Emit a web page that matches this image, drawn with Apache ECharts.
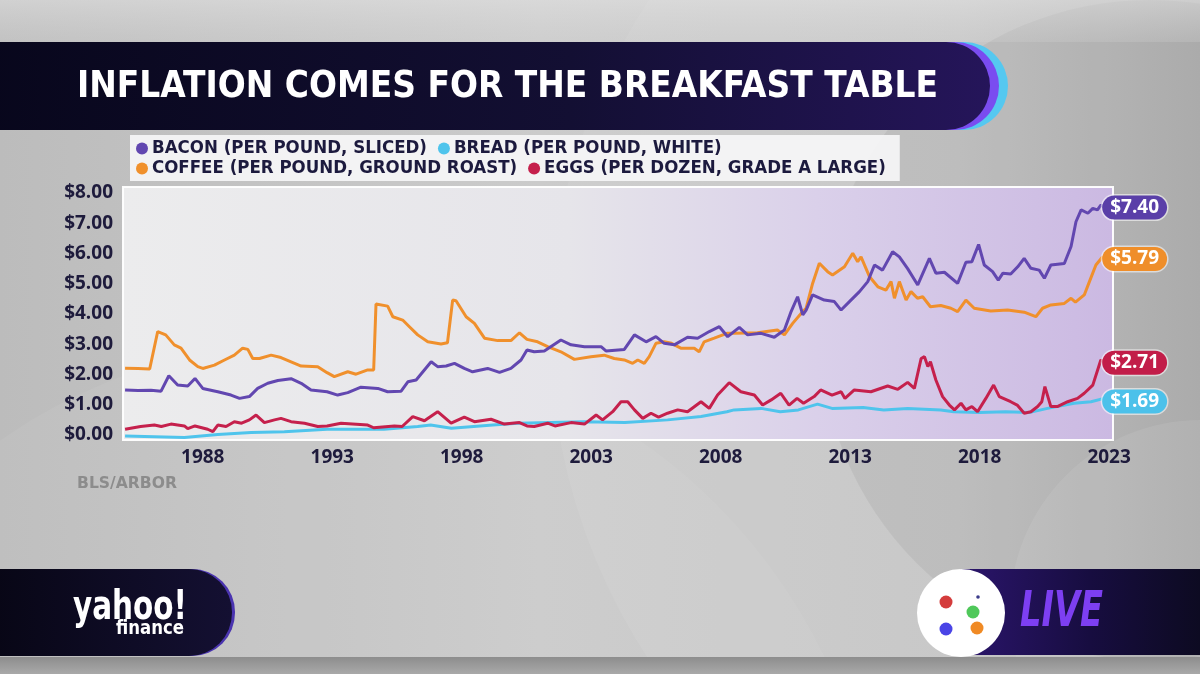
<!DOCTYPE html>
<html>
<head>
<meta charset="utf-8">
<script src="https://cdn.jsdelivr.net/npm/echarts@6/dist/echarts.min.js"></script>
<style>
html,body{margin:0;padding:0;width:1200px;height:674px;overflow:hidden;}
#chart{width:1200px;height:674px;}
</style>
</head>
<body>
<div id="chart"></div>
<script>
// ---------- DATA ----------
const seriesNames = ['BACON (PER POUND, SLICED)', 'BREAD (PER POUND, WHITE)', 'COFFEE (PER POUND, GROUND ROAST)', 'EGGS (PER DOZEN, GRADE A LARGE)'];
const endLabels = ['$7.40', '$1.69', '$5.79', '$2.71'];
const xTickYears = [1988, 1993, 1998, 2003, 2008, 2013, 2018, 2023];
const yTickValues = [0, 1, 2, 3, 4, 5, 6, 7, 8];

const bacon = [[1985.0,1.49],[1985.5,1.47],[1986.0,1.48],[1986.39,1.45],[1986.69,1.96],[1987.03,1.65],[1987.42,1.62],[1987.7,1.87],[1988.0,1.54],[1988.58,1.43],[1989.09,1.32],[1989.42,1.21],[1989.8,1.27],[1990.12,1.54],[1990.51,1.71],[1990.9,1.80],[1991.41,1.86],[1991.8,1.71],[1992.18,1.49],[1992.8,1.43],[1993.21,1.32],[1993.6,1.40],[1994.11,1.58],[1994.76,1.54],[1995.14,1.43],[1995.66,1.45],[1995.92,1.76],[1996.24,1.82],[1996.82,2.42],[1997.07,2.26],[1997.4,2.28],[1997.72,2.37],[1998.1,2.20],[1998.42,2.09],[1999.0,2.20],[1999.46,2.07],[1999.9,2.20],[2000.29,2.48],[2000.52,2.81],[2000.8,2.75],[2001.19,2.78],[2001.83,3.14],[2002.22,2.98],[2002.74,2.92],[2003.38,2.92],[2003.57,2.78],[2004.28,2.83],[2004.67,3.31],[2005.12,3.08],[2005.5,3.25],[2005.82,3.03],[2006.21,2.98],[2006.72,3.23],[2007.11,3.20],[2007.56,3.42],[2007.95,3.58],[2008.27,3.25],[2008.72,3.56],[2009.04,3.31],[2009.56,3.36],[2010.07,3.23],[2010.46,3.47],[2010.72,4.08],[2010.97,4.57],[2011.17,3.97],[2011.3,4.13],[2011.55,4.63],[2012.0,4.46],[2012.39,4.41],[2012.65,4.13],[2013.03,4.46],[2013.36,4.74],[2013.68,5.07],[2013.94,5.62],[2014.25,5.45],[2014.64,6.06],[2014.9,5.89],[2015.22,5.50],[2015.61,4.96],[2016.06,5.84],[2016.31,5.35],[2016.64,5.38],[2017.15,5.01],[2017.47,5.71],[2017.7,5.73],[2017.96,6.30],[2018.18,5.62],[2018.5,5.40],[2018.72,5.12],[2018.9,5.35],[2019.2,5.32],[2019.47,5.56],[2019.72,5.84],[2019.98,5.51],[2020.3,5.45],[2020.5,5.18],[2020.75,5.62],[2021.27,5.67],[2021.53,6.23],[2021.72,7.05],[2021.92,7.44],[2022.18,7.33],[2022.37,7.49],[2022.55,7.44],[2022.68,7.60],[2022.81,7.55]];

const bread = [[1985.0,-0.03],[1987.29,-0.08],[1988.58,0.02],[1989.87,0.08],[1991.15,0.11],[1992.8,0.19],[1995.0,0.19],[1996.3,0.28],[1996.8,0.33],[1997.6,0.22],[1999.2,0.33],[2000.16,0.39],[2002.74,0.44],[2004.3,0.41],[2005.95,0.50],[2007.24,0.61],[2008.24,0.77],[2008.52,0.83],[2009.56,0.88],[2010.3,0.77],[2011.0,0.83],[2011.74,1.02],[2012.3,0.88],[2013.5,0.91],[2014.3,0.83],[2015.22,0.88],[2016.5,0.83],[2017.0,0.77],[2018.0,0.74],[2019.0,0.77],[2019.9,0.74],[2020.62,0.88],[2021.65,1.05],[2022.3,1.10],[2022.81,1.21]];

const coffee = [[1985.0,2.21],[1985.5,2.20],[1985.95,2.18],[1986.26,3.42],[1986.57,3.31],[1986.9,2.98],[1987.16,2.87],[1987.49,2.48],[1987.81,2.26],[1988.0,2.20],[1988.45,2.31],[1988.84,2.48],[1989.22,2.64],[1989.54,2.87],[1989.74,2.83],[1989.93,2.53],[1990.19,2.53],[1990.64,2.64],[1991.02,2.56],[1991.41,2.42],[1991.8,2.28],[1992.44,2.26],[1992.8,2.06],[1993.08,1.93],[1993.6,2.09],[1993.92,2.01],[1994.37,2.15],[1994.6,2.15],[1994.69,4.33],[1995.14,4.26],[1995.34,3.91],[1995.72,3.80],[1995.98,3.58],[1996.3,3.31],[1996.69,3.08],[1997.2,3.01],[1997.45,3.05],[1997.65,4.46],[1997.78,4.44],[1998.17,3.91],[1998.49,3.69],[1998.88,3.20],[1999.39,3.12],[1999.9,3.12],[2000.23,3.38],[2000.52,3.16],[2000.93,3.08],[2001.32,2.92],[2001.83,2.75],[2002.35,2.50],[2002.99,2.59],[2003.5,2.64],[2003.89,2.53],[2004.28,2.48],[2004.6,2.37],[2004.8,2.48],[2005.05,2.37],[2005.24,2.59],[2005.5,3.03],[2005.82,3.08],[2006.1,3.03],[2006.46,2.87],[2006.98,2.87],[2007.17,2.75],[2007.36,3.08],[2007.75,3.20],[2008.24,3.36],[2008.52,3.36],[2009.42,3.38],[2010.19,3.47],[2010.46,3.31],[2010.78,3.69],[2011.17,4.08],[2011.3,4.19],[2011.55,5.01],[2011.81,5.68],[2012.13,5.40],[2012.32,5.29],[2012.78,5.56],[2013.1,6.01],[2013.29,5.73],[2013.42,5.89],[2013.75,5.23],[2014.07,4.90],[2014.38,4.79],[2014.58,5.07],[2014.71,4.52],[2014.9,5.07],[2015.16,4.46],[2015.35,4.74],[2015.6,4.52],[2015.8,4.57],[2016.1,4.24],[2016.5,4.28],[2016.89,4.19],[2017.15,4.08],[2017.47,4.46],[2017.79,4.19],[2018.43,4.10],[2019.08,4.13],[2019.72,4.06],[2020.17,3.91],[2020.43,4.19],[2020.75,4.30],[2021.27,4.35],[2021.53,4.52],[2021.7,4.39],[2022.04,4.63],[2022.24,5.07],[2022.49,5.62],[2022.75,5.89],[2022.81,5.85]];

const eggs = [[1985.0,0.19],[1985.6,0.28],[1986.13,0.33],[1986.4,0.28],[1986.77,0.36],[1987.29,0.30],[1987.42,0.21],[1987.7,0.30],[1988.19,0.19],[1988.39,0.11],[1988.58,0.33],[1988.9,0.28],[1989.22,0.44],[1989.5,0.39],[1989.8,0.50],[1990.06,0.66],[1990.38,0.41],[1990.77,0.50],[1991.02,0.55],[1991.41,0.44],[1991.93,0.39],[1992.44,0.28],[1992.8,0.30],[1993.34,0.39],[1994.37,0.33],[1994.6,0.24],[1995.4,0.30],[1995.7,0.28],[1996.11,0.61],[1996.56,0.47],[1997.07,0.77],[1997.59,0.39],[1998.1,0.59],[1998.49,0.44],[1999.13,0.52],[1999.65,0.36],[2000.23,0.41],[2000.52,0.30],[2000.8,0.28],[2001.32,0.39],[2001.6,0.30],[2002.22,0.41],[2002.74,0.36],[2003.19,0.66],[2003.44,0.50],[2003.83,0.77],[2004.15,1.10],[2004.41,1.10],[2004.67,0.83],[2004.99,0.55],[2005.31,0.72],[2005.6,0.59],[2005.95,0.72],[2006.34,0.83],[2006.72,0.77],[2007.24,1.10],[2007.56,0.88],[2007.88,1.32],[2008.33,1.73],[2008.78,1.43],[2009.3,1.32],[2009.62,0.99],[2009.95,1.16],[2010.32,1.38],[2010.64,0.99],[2010.95,1.21],[2011.2,1.05],[2011.61,1.27],[2011.86,1.49],[2012.3,1.32],[2012.65,1.43],[2012.8,1.21],[2013.16,1.49],[2013.8,1.43],[2014.45,1.62],[2014.84,1.51],[2015.22,1.74],[2015.48,1.54],[2015.74,2.53],[2015.87,2.59],[2016.0,2.26],[2016.1,2.42],[2016.31,1.82],[2016.57,1.27],[2016.83,0.99],[2017.03,0.83],[2017.28,1.05],[2017.47,0.83],[2017.7,0.94],[2017.92,0.77],[2018.24,1.21],[2018.54,1.65],[2018.76,1.27],[2019.2,1.10],[2019.45,0.99],[2019.72,0.72],[2019.98,0.77],[2020.24,0.94],[2020.4,1.10],[2020.52,1.60],[2020.75,0.94],[2021.0,0.94],[2021.4,1.10],[2021.78,1.21],[2022.04,1.38],[2022.37,1.65],[2022.68,2.48],[2022.81,2.42]];

const seriesData = [bacon, bread, coffee, eggs];
const seriesColors = ['#6247b0', '#4fc4ec', '#f0902c', '#c5204c'];
const pillColors = ['#5a3fa8', '#4cc1ea', '#ef8e2a', '#c21d49'];

// ---------- helpers ----------
const measureCtx = document.createElement('canvas').getContext('2d');
function fitScale(text, font, target) {
  measureCtx.font = font;
  return target / measureCtx.measureText(text).width;
}

const titleText = 'INFLATION COMES FOR THE BREAKFAST TABLE';
const titleFont = 'bold 37px "Liberation Sans Narrow", "DejaVu Sans Condensed", sans-serif';
const liveFont = 'italic bold 50px "Liberation Sans Narrow", "DejaVu Sans Condensed", sans-serif';
const yahooFont = 'bold 40px "Liberation Sans Narrow", "DejaVu Sans Condensed", sans-serif';
const financeFont = 'bold 20px "Liberation Sans Narrow", "DejaVu Sans Condensed", sans-serif';
const srcFont = 'bold 16px "Liberation Sans Narrow", "DejaVu Sans Condensed", sans-serif';

const chart = echarts.init(document.getElementById('chart'), null, {renderer: 'canvas'});

const series = seriesNames.map((name, i) => ({
  name: name,
  type: 'line',
  data: seriesData[i],
  showSymbol: false,
  symbol: 'none',
  clip: false,
  z: 3 + (i === 0 ? 2 : i === 2 ? 1 : 0),
  lineStyle: {color: seriesColors[i], width: 3},
  itemStyle: {color: seriesColors[i]},
  endLabel: {
    show: true,
    formatter: () => endLabels[i],
    distance: -2,
    color: '#ffffff',
    fontFamily: '"Open Sans", sans-serif',
    fontWeight: 'bold',
    fontSize: 19,
    backgroundColor: pillColors[i],
    borderColor: 'rgba(255,255,255,0.55)',
    borderWidth: 1.5,
    borderRadius: 14,
    padding: [3, 8, 2, 8],
    offset: [0, i === 1 ? 3 : 1]
  },
  emphasis: {disabled: true}
}));

const graphics = [
  // background arcs
  {type: 'circle', z: -20, shape: {cx: 1150, cy: 330, r: 600}, style: {fill: 'rgba(255,255,255,0.07)'}},
  {type: 'circle', z: -20, shape: {cx: 1150, cy: 330, r: 330}, style: {fill: 'rgba(0,0,0,0.05)'}},
  {type: 'circle', z: -20, shape: {cx: 1200, cy: 610, r: 190}, style: {fill: 'rgba(255,255,255,0.08)'}},
  {type: 'circle', z: -20, shape: {cx: 320, cy: 900, r: 560}, style: {fill: 'rgba(255,255,255,0.05)'}},
  // bottom strip
  {type: 'rect', z: -19, shape: {x: 0, y: 657, width: 1200, height: 17},
    style: {fill: new echarts.graphic.LinearGradient(0, 0, 0, 1, [{offset: 0, color: '#8d8d8d'}, {offset: 1, color: '#a9a9a9'}])}},
  // top lighter band
  {type: 'rect', z: -19, shape: {x: 0, y: 0, width: 1200, height: 42},
    style: {fill: new echarts.graphic.LinearGradient(0, 0, 0, 1, [{offset: 0, color: 'rgba(230,230,230,0.5)'}, {offset: 1, color: 'rgba(220,220,220,0.2)'}])}},

  // title banner rims + body
  {type: 'rect', z: 1, shape: {x: -60, y: 42, width: 1068, height: 88, r: 44}, style: {fill: '#55c8f0'}},
  {type: 'rect', z: 1, shape: {x: -60, y: 42, width: 1059, height: 88, r: 44}, style: {fill: '#7a4cf0'}},
  {type: 'rect', z: 1, shape: {x: -60, y: 42, width: 1050, height: 88, r: 44},
    style: {fill: new echarts.graphic.LinearGradient(0, 0, 1, 0, [{offset: 0, color: '#07061a'}, {offset: 0.6, color: '#130f33'}, {offset: 1, color: '#25155a'}])}},
  {type: 'text', z: 2, x: 77, y: 87, scaleX: fitScale(titleText, titleFont, 861),
    style: {text: titleText, font: titleFont, fill: '#ffffff', align: 'left', verticalAlign: 'middle'}},

  // plot frame background
  {type: 'rect', z: -5, shape: {x: 123, y: 187, width: 990, height: 253},
    style: {fill: new echarts.graphic.LinearGradient(0, 0, 1, 0, [
      {offset: 0, color: '#ececed'}, {offset: 0.45, color: '#e6e5ea'}, {offset: 0.7, color: '#dad0ea'}, {offset: 1, color: '#cbb9e2'}]),
      stroke: 'rgba(255,255,255,0.95)', lineWidth: 2}},

  // source
  {type: 'text', z: 2, x: 77, y: 484, scaleX: fitScale('BLS/ARBOR', srcFont, 100),
    style: {text: 'BLS/ARBOR', font: srcFont, fill: '#8c8c8c', align: 'left', verticalAlign: 'middle'}},

  // yahoo finance pill
  {type: 'rect', z: 1, shape: {x: -60, y: 569, width: 295, height: 87, r: 43}, style: {fill: '#4a34b0'}},
  {type: 'rect', z: 1, shape: {x: -60, y: 569, width: 292, height: 87, r: 43},
    style: {fill: new echarts.graphic.LinearGradient(0, 0, 1, 0, [{offset: 0, color: '#05040f'}, {offset: 1, color: '#141032'}])}},
  {type: 'text', z: 2, x: 73, y: 609, scaleX: fitScale('yahoo!', yahooFont, 114),
    style: {text: 'yahoo!', font: yahooFont, fill: '#ffffff', align: 'left', verticalAlign: 'middle'}},
  {type: 'text', z: 2, x: 116, y: 629, scaleX: fitScale('finance', financeFont, 68),
    style: {text: 'finance', font: financeFont, fill: '#ffffff', align: 'left', verticalAlign: 'middle'}},

  // LIVE bar
  {type: 'rect', z: 1, shape: {x: 960, y: 569, width: 260, height: 86},
    style: {fill: new echarts.graphic.LinearGradient(0, 0, 1, 0, [{offset: 0, color: '#2b156c'}, {offset: 0.5, color: '#170d40'}, {offset: 1, color: '#0b0a1c'}])}},
  {type: 'circle', z: 2, shape: {cx: 961, cy: 613, r: 44}, style: {fill: '#ffffff'}},
  {type: 'circle', z: 3, shape: {cx: 946, cy: 602, r: 6.5}, style: {fill: '#d43c3c'}},
  {type: 'circle', z: 3, shape: {cx: 973, cy: 612, r: 6.5}, style: {fill: '#4fc85a'}},
  {type: 'circle', z: 3, shape: {cx: 946, cy: 629, r: 6.5}, style: {fill: '#4a44e6'}},
  {type: 'circle', z: 3, shape: {cx: 977, cy: 628, r: 6.5}, style: {fill: '#f08a24'}},
  {type: 'circle', z: 3, shape: {cx: 978, cy: 597, r: 1.8}, style: {fill: '#3b3b8a'}},
  {type: 'text', z: 2, x: 1020, y: 613, scaleX: fitScale('LIVE', liveFont, 83),
    style: {text: 'LIVE', font: liveFont, fill: '#7d3ff2', align: 'left', verticalAlign: 'middle'}}
];

const option = {
  animation: false,
  backgroundColor: new echarts.graphic.LinearGradient(0, 0, 1, 0, [
    {offset: 0, color: '#bcbcbc'}, {offset: 0.45, color: '#cbcbcb'}, {offset: 0.8, color: '#c4c4c4'}, {offset: 1, color: '#b0b0b0'}]),
  grid: {left: 123, right: 87, top: 193, bottom: 239, containLabel: false},
  legend: {
    data: seriesNames,
    left: 130,
    top: 135,
    width: 800,
    orient: 'horizontal',
    icon: 'circle',
    itemWidth: 12,
    itemHeight: 12,
    itemGap: 1,
    padding: [4, 4, 3, 6],
    backgroundColor: 'rgba(246,246,247,0.92)',
    selectedMode: false,
    textStyle: {
      color: '#1c1a3e',
      fontFamily: '"Liberation Sans Narrow", "DejaVu Sans Condensed", sans-serif',
      fontWeight: 'bold',
      fontSize: 18.5,
      lineHeight: 18,
      padding: [0, 10, 0, -1]
    }
  },
  xAxis: {
    type: 'value',
    min: 1984.92,
    max: 2023.15,
    axisLine: {show: false},
    axisTick: {show: false},
    splitLine: {show: false},
    axisLabel: {
      customValues: xTickYears,
      formatter: (v) => String(Math.round(v)),
      margin: 13,
      color: '#1e1b3c',
      fontFamily: '"Open Sans", sans-serif',
      fontWeight: 'bold',
      fontSize: 19
    }
  },
  yAxis: {
    type: 'value',
    min: 0,
    max: 8,
    interval: 1,
    axisLine: {show: false},
    axisTick: {show: false},
    splitLine: {show: false},
    axisLabel: {
      customValues: yTickValues,
      formatter: (v) => '$' + v.toFixed(2),
      margin: 10,
      color: '#1e1b3c',
      fontFamily: '"Open Sans", sans-serif',
      fontWeight: 'bold',
      fontSize: 19
    }
  },
  graphic: {elements: graphics},
  series: series
};

chart.setOption(option);
</script>
</body>
</html>
